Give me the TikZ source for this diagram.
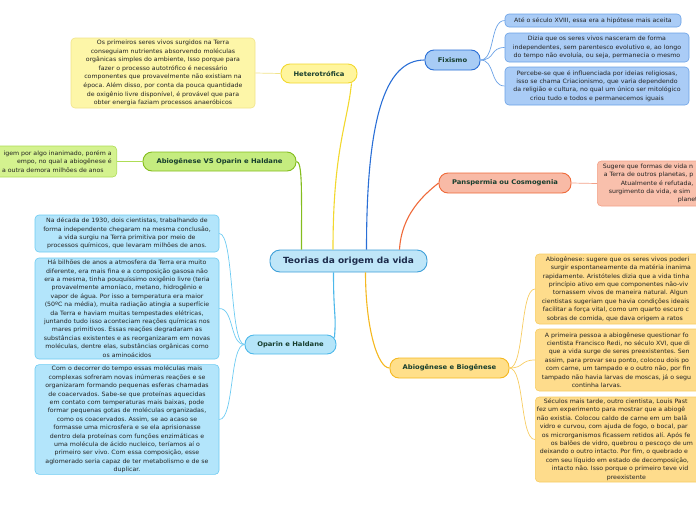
\documentclass[tikz,border=0pt]{standalone}
\usepackage{fontspec}
\setmainfont{DejaVu Sans}[FakeStretch=1.06]
\usetikzlibrary{calc}
\frenchspacing
\definecolor{cfill}{HTML}{BFE6F8}\definecolor{cdraw}{HTML}{3D9FD8}
\definecolor{hfill}{HTML}{FFF59D}\definecolor{hdraw}{HTML}{F2D82E}
\definecolor{hnfill}{HTML}{FDF6A8}\definecolor{hndraw}{HTML}{F1E38A}
\definecolor{gfill}{HTML}{C5EC7F}\definecolor{gdraw}{HTML}{84BD1E}
\definecolor{gnfill}{HTML}{D4F28F}\definecolor{gndraw}{HTML}{AEDD56}
\definecolor{bfill}{HTML}{A8CCF5}\definecolor{bdraw}{HTML}{2A6FD6}
\definecolor{bnfill}{HTML}{AACCF6}\definecolor{bndraw}{HTML}{6AA1E6}
\definecolor{rfill}{HTML}{F8BAA6}\definecolor{rdraw}{HTML}{EF6A3A}
\definecolor{rnfill}{HTML}{F9C0AC}\definecolor{rndraw}{HTML}{F3A188}
\definecolor{ofill}{HTML}{FFDF8A}\definecolor{odraw}{HTML}{F5B820}
\definecolor{onfill}{HTML}{FEDC8C}\definecolor{ondraw}{HTML}{F7CC62}
\definecolor{lfill}{HTML}{B5E5F9}\definecolor{ldraw}{HTML}{4DB8EA}
\definecolor{lnfill}{HTML}{B3E5FB}\definecolor{lndraw}{HTML}{6DCBF2}
\definecolor{maintxt}{HTML}{163D2D}\definecolor{ctxt}{HTML}{1C2B4B}
\definecolor{notetxt}{HTML}{222222}
\tikzset{
  x=1pt,y=-1pt,
  pill/.style={rounded corners=9pt,line width=0.9pt,inner sep=0pt,font=\fontsize{6.4}{7}\selectfont\bfseries,text=maintxt},
  note/.style={rounded corners=4pt,line width=0.6pt,inner sep=1.5pt,align=center,font=\fontsize{5.9}{8.4}\selectfont,text=notetxt},
  mainline/.style={line width=1.1pt},
  subline/.style={line width=0.7pt},
}
\begin{document}
\begin{tikzpicture}
\useasboundingbox (0,0) rectangle (696,520);
\clip (0,0) rectangle (696,520);
% central
\node[rounded corners=10pt,line width=0.9pt,fill=cfill,draw=cdraw,minimum width=157,minimum height=22,inner sep=0pt,font=\fontsize{8.5}{9}\selectfont\bfseries,text=ctxt] (c) at (348.5,261) {Teorias da origem da vida};
% main branches
\node[pill,fill=hfill,draw=hdraw,minimum width=76,minimum height=19] (het) at (319,73.5) {Heterotrófica};
\node[pill,fill=gfill,draw=gdraw,minimum width=153,minimum height=19] (avs) at (219.5,161.5) {Abiogênese VS Oparin e Haldane};
\node[pill,fill=bfill,draw=bdraw,minimum width=55,minimum height=20] (fix) at (452.5,60) {Fixismo};
\node[pill,fill=rfill,draw=rdraw,minimum width=132,minimum height=20] (pan) at (505,183) {Panspermia ou Cosmogenia};
\node[pill,fill=ofill,draw=odraw,minimum width=119,minimum height=20] (ab) at (449.5,368) {Abiogênese e Biogênese};
\node[pill,fill=lfill,draw=ldraw,minimum width=91,minimum height=19] (op) at (290.5,344.5) {Oparin e Haldane};
% main connectors
\draw[mainline,draw=hdraw] ($(c.north)+(-15.5,0)$) .. controls +(0,-100) and +(-4,40) .. ($(het.south east)+(-6,0)$);
\draw[mainline,draw=gdraw] (avs.east) .. controls +(6,0) and +(0,-60) .. ($(c.north)+(-47,0)$);
\draw[mainline,draw=bdraw] ($(c.north)+(18,0)$) .. controls +(0,-130) and +(-40,0) .. (fix.west);
\draw[mainline,draw=rdraw] ($(c.north)+(51,0)$) .. controls +(2,-35) and +(-15,12) .. (pan.west);
\draw[mainline,draw=ldraw] ($(c.south)+(-15,0)$) .. controls +(0,45) and +(2,-25) .. ($(op.north east)+(-2,3)$);
\draw[mainline,draw=odraw] ($(c.south)+(17,0)$) .. controls +(0,55) and +(-12,0) .. (ab.west);
% Heterotrofica note
\node[note,fill=hnfill,draw=hndraw,minimum width=184,minimum height=70,font=\fontsize{5.9}{8.6}\selectfont] (hetn) at (163,73) {Os primeiros seres vivos surgidos na Terra\\conseguiam nutrientes absorvendo moléculas\\orgânicas simples do ambiente, Isso porque para\\fazer o processo autotrófico é necessário\\componentes que provavelmente não existiam na\\época. Além disso, por conta da pouca quantidade\\de oxigênio livre disponível, é provável que para\\obter energia faziam processos anaeróbicos};
\draw[subline,draw=hndraw] (het.west) -- (hetn.east);
% AVS note
\node[note,fill=gnfill,draw=gndraw,anchor=east,text width=130,align=right,inner xsep=5pt,minimum height=31] (avsn) at (117,161.5) {igem por algo inanimado, porém a\\empo, no qual a abiogênese é\hspace*{15pt}\\a outra demora milhões de anos\hspace*{8pt}};
\draw[subline,draw=gndraw] (avs.west) -- (avsn.east);
% Fixismo notes
\node[note,fill=bnfill,draw=bndraw,minimum width=176,minimum height=13] (fn1) at (593,20.5) {Até o século XVIII, essa era a hipótese mais aceita};
\node[note,fill=bnfill,draw=bndraw,minimum width=184,minimum height=29] (fn2) at (597,47.5) {Dizia que os seres vivos nasceram de forma\\independentes, sem parentesco evolutivo e, ao longo\\do tempo não evoluía, ou seja, permanecia o mesmo};
\node[note,fill=bnfill,draw=bndraw,minimum width=184,minimum height=38] (fn3) at (597,86) {Percebe-se que é influenciada por ideias religiosas,\\isso se chama Criacionismo, que varia dependendo\\da religião e cultura, no qual um único ser mitológico\\criou tudo e todos e permanecemos iguais};
\foreach \n in {fn1,fn2,fn3}
  \draw[subline,draw=bndraw] (fix.east) .. controls +(15,0) and +(-15,0) .. (\n.west);
% Panspermia note
\node[note,fill=rnfill,draw=rndraw,anchor=west,text width=140,align=left,minimum height=45] (pann) at (597,183.5) {\hspace*{4pt}Sugere que formas de vida n\\\hspace*{5pt}a Terra de outros planetas, p\\\hspace*{22pt}Atualmente é refutada,\\\hspace*{10pt}surgimento da vida, e sim\\\hspace*{79pt}planet};
\draw[subline,draw=rndraw] (pan.east) -- (pann.west);
% Abiogenese notes
\node[note,fill=onfill,draw=ondraw,anchor=west,text width=200,align=left,minimum height=70] (an1) at (535,289) {\hspace*{9pt}Abiogênese: sugere que os seres vivos poderi\\\hspace*{14pt}surgir espontaneamente da matéria inanima\\\hspace*{6pt}rapidamente. Aristóteles dizia que a vida tinha\\\hspace*{12pt}princípio ativo em que componentes não-viv\\\hspace*{16pt}tornassem vivos de maneira natural. Algun\\\hspace*{5pt}cientistas sugeriam que havia condições ideais\\\hspace*{6pt}facilitar a força vital, como um quarto escuro c\\\hspace*{10pt}sobras de comida, que dava origem a ratos};
\node[note,fill=onfill,draw=ondraw,anchor=west,text width=200,align=left,minimum height=62] (an2) at (535,360) {\hspace*{8pt}A primeira pessoa a abiogênese questionar fo\\\hspace*{10pt}cientista Francisco Redi, no século XVI, que di\\\hspace*{12pt}que a vida surge de seres preexistentes. Sen\\\hspace*{8pt}assim, para provar seu ponto, colocou dois po\\\hspace*{9pt}com carne, um tampado e o outro não, por fin\\\hspace*{5pt}tampado não havia larvas de moscas, já o segu\\\hspace*{35pt}continha larvas.};
\node[note,fill=onfill,draw=ondraw,anchor=west,text width=200,align=left,minimum height=85] (an3) at (535,439.5) {\hspace*{7pt}Séculos mais tarde, outro cientista, Louis Past\\fez um experimento para mostrar que a abiogê\\não existia. Colocou caldo de carne em um balã\\\hspace*{3pt}vidro e curvou, com ajuda de fogo, o bocal, par\\\hspace*{5pt}os microrganismos ficassem retidos alí. Após fe\\\hspace*{14pt}os balões de vidro, quebrou o pescoço de um\\\hspace*{3pt}deixando o outro intacto. Por fim, o quebrado e\\\hspace*{9pt}com seu líquido em estado de decomposição,\\\hspace*{15pt}intacto não. Isso porque o primeiro teve vid\\\hspace*{70pt}preexistente};
\foreach \n in {an1,an2,an3}
  \draw[subline,draw=ondraw] (ab.east) .. controls +(15,0) and +(-15,0) .. (\n.west);
% Oparin notes
\node[note,fill=lnfill,draw=lndraw,minimum width=184,minimum height=37] (on1) at (127,233.5) {Na década de 1930, dois cientistas, trabalhando de\\forma independente chegaram na mesma conclusão,\\a vida surgiu na Terra primitiva por meio de\\processos químicos, que levaram milhões de anos.};
\node[note,fill=lnfill,draw=lndraw,minimum width=184,minimum height=101] (on2) at (127,308.5) {Há bilhões de anos a atmosfera da Terra era muito\\diferente, era mais fina e a composição gasosa não\\era a mesma, tinha pouquíssimo oxigênio livre (teria\\provavelmente amoníaco, metano, hidrogênio e\\vapor de água. Por isso a temperatura era maior\\(50ºC na média), muita radiação atingia a superfície\\da Terra e haviam muitas tempestades elétricas,\\juntando tudo isso aconteciam reações químicas nos\\mares primitivos. Essas reações degradaram as\\substâncias existentes e as reorganizaram em novas\\moléculas, dentre elas, substâncias orgânicas como\\os aminoácidos};
\node[note,fill=lnfill,draw=lndraw,minimum width=184,minimum height=109] (on3) at (127,419.5) {Com o decorrer do tempo essas moléculas mais\\complexas sofreram novas inúmeras reações e se\\organizaram formando pequenas esferas chamadas\\de coacervados. Sabe-se que proteínas aquecidas\\em contato com temperaturas mais baixas, pode\\formar pequenas gotas de moléculas organizadas,\\como os coacervados. Assim, se ao acaso se\\formasse uma microsfera e se ela aprisionasse\\dentro dela proteínas com funções enzimáticas e\\uma molécula de ácido nucleico, teríamos aí o\\primeiro ser vivo. Com essa composição, esse\\aglomerado seria capaz de ter metabolismo e de se\\duplicar.};
\foreach \n in {on1,on2,on3}
  \draw[subline,draw=lndraw] (op.west) .. controls +(-15,0) and +(15,0) .. (\n.east);
\end{tikzpicture}
\end{document}
